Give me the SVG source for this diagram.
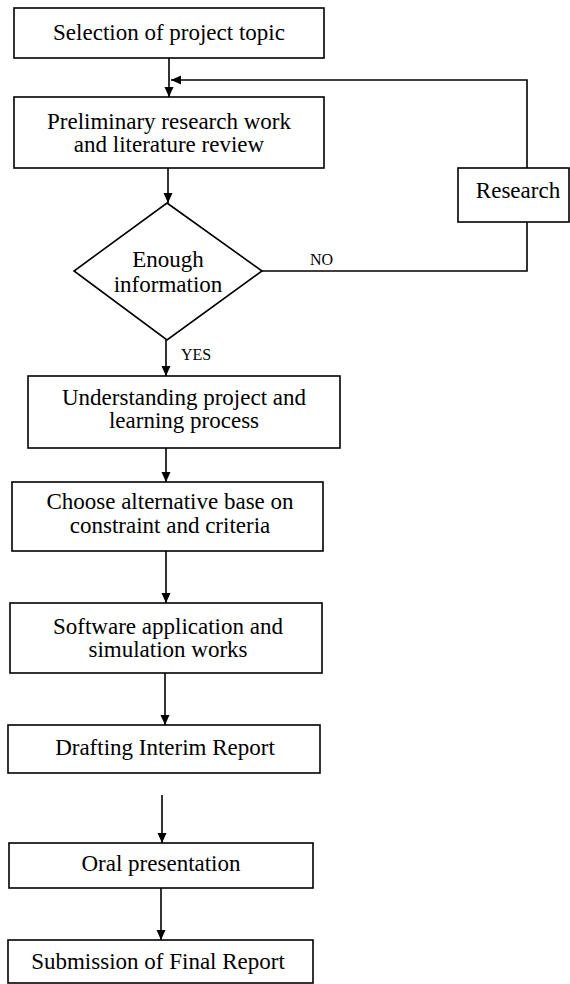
<svg xmlns="http://www.w3.org/2000/svg" width="570" height="984" viewBox="0 0 570 984">
<style>
.box{fill:#fff;stroke:#000;stroke-width:1.6}
.ln{fill:none;stroke:#000;stroke-width:1.6}
.t{font-family:"Liberation Serif","Times New Roman",serif;font-size:23px;fill:#000;text-anchor:middle}
.s{font-family:"Liberation Serif","Times New Roman",serif;font-size:16px;fill:#000}
</style>
<defs>
<marker id="ah" markerUnits="userSpaceOnUse" markerWidth="11" markerHeight="10" refX="10" refY="4.5" orient="auto">
<path d="M0,0 L10,4.5 L0,9 z" fill="#000"/>
</marker>
</defs>
<rect width="570" height="984" fill="#fff"/>
<g id="connectors">
<line class="ln" x1="169" y1="58" x2="169" y2="97" marker-end="url(#ah)"/>
<polyline class="ln" points="527,168 527,80 171,80" marker-end="url(#ah)"/>
<line class="ln" x1="168" y1="168" x2="168" y2="203" marker-end="url(#ah)"/>
<polyline class="ln" points="262,271 527,271 527,222"/>
<line class="ln" x1="166" y1="340" x2="166" y2="376" marker-end="url(#ah)"/>
<line class="ln" x1="166" y1="448" x2="166" y2="482" marker-end="url(#ah)"/>
<line class="ln" x1="166" y1="551" x2="166" y2="603" marker-end="url(#ah)"/>
<line class="ln" x1="165" y1="673" x2="165" y2="725" marker-end="url(#ah)"/>
<line class="ln" x1="162" y1="795" x2="162" y2="843" marker-end="url(#ah)"/>
<line class="ln" x1="161" y1="888" x2="161" y2="940" marker-end="url(#ah)"/>
<text class="s" x="310" y="265">NO</text>
<text class="s" x="181" y="360">YES</text>
</g>
<g id="n1"><rect class="box" x="14" y="8" width="310" height="50"/><text class="t" x="169" y="40">Selection of project topic</text></g>
<g id="n2"><rect class="box" x="14" y="97" width="310" height="71"/><text class="t" x="169" y="129">Preliminary research work</text><text class="t" x="169" y="152">and literature review</text></g>
<g id="n3"><polygon class="box" points="167,203 262,271 167,340 74,271"/><text class="t" x="168" y="267">Enough</text><text class="t" x="168" y="292">information</text></g>
<g id="n4"><rect class="box" x="458" y="168" width="111" height="54"/><text class="t" x="518" y="198">Research</text></g>
<g id="n5"><rect class="box" x="28" y="376" width="312" height="72"/><text class="t" x="184" y="405">Understanding project and</text><text class="t" x="184" y="428">learning process</text></g>
<g id="n6"><rect class="box" x="12" y="482" width="311" height="69"/><text class="t" x="170" y="509">Choose alternative base on</text><text class="t" x="170" y="533">constraint and criteria</text></g>
<g id="n7"><rect class="box" x="10" y="603" width="312" height="70"/><text class="t" x="168" y="634">Software application and</text><text class="t" x="168" y="657">simulation works</text></g>
<g id="n8"><rect class="box" x="8" y="725" width="312" height="48"/><text class="t" x="165" y="755">Drafting Interim Report</text></g>
<g id="n9"><rect class="box" x="9" y="843" width="304" height="45"/><text class="t" x="161" y="871">Oral presentation</text></g>
<g id="n10"><rect class="box" x="8" y="940" width="305" height="43"/><text class="t" x="158" y="969">Submission of Final Report</text></g>
</svg>
